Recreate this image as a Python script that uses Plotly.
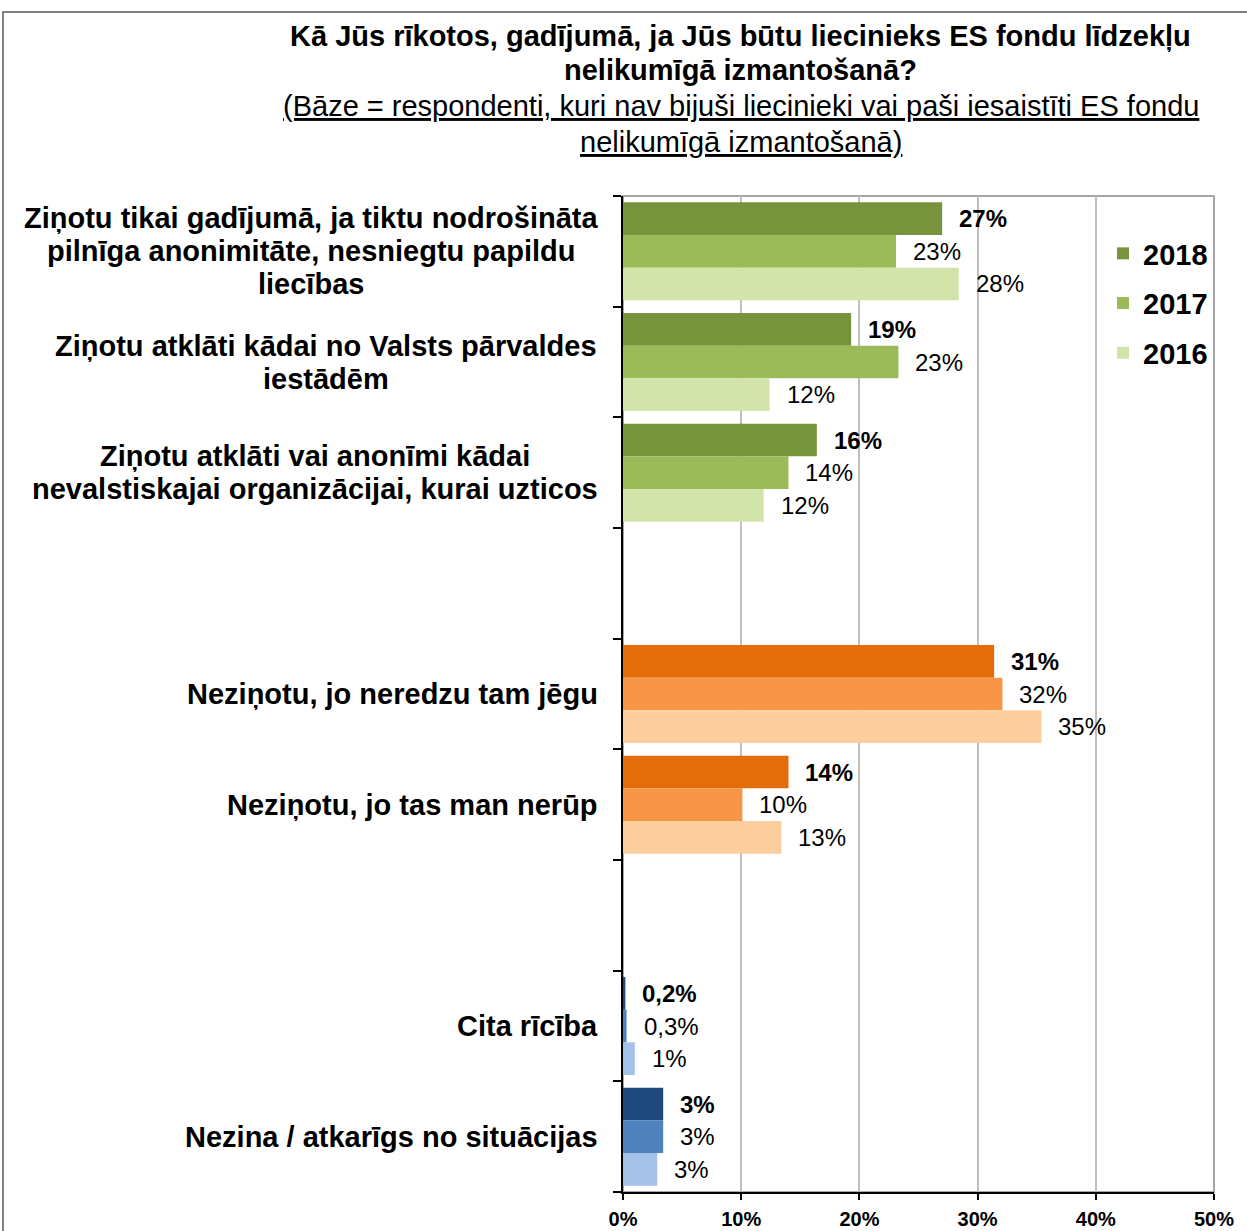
import unicodedata
import plotly.graph_objects as go

# Survey answers (top to bottom) and the answer block each belongs to
categories = [
    ["Ziņotu tikai gadījumā, ja tiktu nodrošināta", "pilnīga anonimitāte, nesniegtu papildu", "liecības"],
    ["Ziņotu atklāti kādai no Valsts pārvaldes", "iestādēm"],
    ["Ziņotu atklāti vai anonīmi kādai", "nevalstiskajai organizācijai, kurai uzticos"],
    ["Neziņotu, jo neredzu tam jēgu"],
    ["Neziņotu, jo tas man nerūp"],
    ["Cita rīcība"],
    ["Nezina / atkarīgs no situācijas"],
]
groups = ["report", "report", "report", "silent", "silent", "other", "other"]

years = ["2018", "2017", "2016"]
values_2018 = [27.0, 19.3, 16.4, 31.4, 14.0, 0.2, 3.4]
values_2017 = [23.1, 23.3, 14.0, 32.1, 10.1, 0.3, 3.4]
values_2016 = [28.4, 12.4, 11.9, 35.4, 13.4, 1.0, 2.9]
series = [values_2018, values_2017, values_2016]

x_ticks = [0, 10, 20, 30, 40, 50]

title_lines = [
    "Kā Jūs rīkotos, gadījumā, ja Jūs būtu liecinieks ES fondu līdzekļu",
    "nelikumīgā izmantošanā?",
]
subtitle_lines = [
    "(Bāze = respondenti, kuri nav bijuši liecinieki vai paši iesaistīti ES fondu",
    "nelikumīgā izmantošanā)",
]

# Shades per answer block: 2018, 2017, 2016
palette = {
    "report": ["#77933C", "#9BBB59", "#D3E4AB"],
    "silent": ["#E46C0A", "#F79646", "#FDCF9F"],
    "other": ["#1F497D", "#4F81BD", "#A4C2E8"],
}

FONT = "Liberation Sans, Arial, sans-serif"

# Bold sans advance widths (1/1000 em) used to centre multi-line answer texts
_W = {" ": 278, ",": 278, "/": 278, "-": 333, ".": 278}
_W.update({c: w for c, w in zip("ABCDEFGHIJKLMNOPQRSTUVWXYZ",
                                [722, 722, 722, 722, 667, 611, 778, 722, 278, 556, 722, 611, 833,
                                 722, 778, 667, 778, 722, 667, 611, 722, 667, 944, 667, 667, 611])})
_W.update({c: w for c, w in zip("abcdefghijklmnopqrstuvwxyz",
                                [556, 611, 556, 611, 556, 333, 611, 611, 278, 278, 556, 278, 889,
                                 611, 611, 611, 611, 389, 556, 333, 611, 556, 778, 556, 556, 500])})


def text_width(s, size):
    base = unicodedata.normalize("NFD", s)
    return sum(_W.get(ch, 0) for ch in base if not unicodedata.combining(ch)) * size / 1000


# Slot index for every answer, leaving an empty slot between blocks
slots = []
pos = -1
for i, g in enumerate(groups):
    pos += 1
    if i > 0 and g != groups[i - 1]:
        pos += 1
    slots.append(pos)
n_slots = pos + 1

bargap = 0.115
bar_w = (1 - bargap) / len(years)


def fmt(v):
    if v < 1:
        return f"{v:.1f}".replace(".", ",") + "%"
    return f"{round(v)}%"


fig = go.Figure()
for k, (year, vals) in enumerate(zip(years, series)):
    fig.add_trace(go.Bar(
        name=year,
        orientation="h",
        x=vals,
        y=slots,
        marker=dict(color=[palette[g][k] for g in groups], line=dict(width=0)),
        legendgroup=year,
        hoverinfo="skip",
    ))

annotations = []
# Value labels next to each bar
for k, vals in enumerate(series):
    for s, v in zip(slots, vals):
        annotations.append(dict(
            x=v, y=s + (k - 1) * bar_w, xref="x", yref="y",
            text=fmt(v), showarrow=False, xanchor="left", yanchor="middle",
            xshift=15,
            font=dict(family=FONT, size=24, color="#000000",
                      weight="bold" if k == 0 else "normal"),
        ))

# Answer texts: block right-aligned beside the axis, lines centred within the block
LABEL_SIZE = 29
LINE_H = 33
LABEL_GAP = 25
for s, lines in zip(slots, categories):
    n = len(lines)
    block_w = max(text_width(line, LABEL_SIZE) for line in lines)
    for i, line in enumerate(lines):
        annotations.append(dict(
            x=0, y=s, xref="paper", yref="y",
            text=line, showarrow=False, xanchor="center", yanchor="middle",
            xshift=-(LABEL_GAP + block_w / 2), yshift=((n - 1) / 2 - i) * LINE_H,
            font=dict(family=FONT, size=LABEL_SIZE, color="#000000", weight="bold"),
        ))

# Heading
PLOT_TOP = 196
PLOT_H = 996
for i, line in enumerate(title_lines):
    py = 36 + i * 34
    annotations.append(dict(
        x=(740 - 623) / 591, y=1 + (PLOT_TOP - py) / PLOT_H, xref="paper", yref="paper",
        text=f"<b>{line}</b>", showarrow=False, xanchor="center", yanchor="middle",
        font=dict(family=FONT, size=29, color="#000000"),
    ))
for i, line in enumerate(subtitle_lines):
    py = 106 + i * 36
    annotations.append(dict(
        x=(741 - 623) / 591, y=1 + (PLOT_TOP - py) / PLOT_H, xref="paper", yref="paper",
        text=f"<u>{line}</u>", showarrow=False, xanchor="center", yanchor="middle",
        font=dict(family=FONT, size=29, color="#000000"),
    ))

shapes = [
    # plot-area frame
    dict(type="rect", xref="paper", yref="paper", x0=0, x1=1, y0=0, y1=1,
         line=dict(color="#A6A6A6", width=2), layer="below"),
    # outer frame
    dict(type="rect", xref="paper", yref="paper",
         x0=(3 - 623) / 591, x1=1.2, y0=-0.2, y1=1 + (PLOT_TOP - 12) / PLOT_H,
         line=dict(color="#808080", width=2), layer="below"),
]

fig.update_layout(
    width=1247, height=1231,
    margin=dict(l=623, r=33, t=PLOT_TOP, b=1231 - PLOT_TOP - PLOT_H, autoexpand=False),
    paper_bgcolor="white", plot_bgcolor="white",
    barmode="group", bargap=bargap, bargroupgap=0,
    font=dict(family=FONT, color="#000000"),
    showlegend=True,
    legend=dict(
        x=(1103 - 623) / 591, y=1 - (228 - PLOT_TOP) / PLOT_H,
        xanchor="left", yanchor="top",
        font=dict(family=FONT, size=29, color="#000000", weight="bold"),
        bgcolor="rgba(0,0,0,0)", tracegroupgap=9, traceorder="grouped",
    ),
    annotations=annotations,
    shapes=shapes,
    xaxis=dict(
        range=[0, 50], tickvals=x_ticks, ticktext=[f"{t}%" for t in x_ticks],
        showgrid=True, gridcolor="#BFBFBF", gridwidth=2,
        showline=True, linecolor="#000000", linewidth=2,
        ticks="outside", ticklen=6, tickcolor="#000000", tickwidth=2,
        ticklabelstandoff=2,
        tickfont=dict(family=FONT, size=20, color="#000000", weight="bold"),
        zeroline=False, fixedrange=True, automargin=False,
    ),
    yaxis=dict(
        range=[n_slots - 0.5, -0.5],
        tickvals=[i - 0.5 for i in range(n_slots + 1)],
        ticktext=["" for _ in range(n_slots + 1)],
        showgrid=False, zeroline=False,
        showline=True, linecolor="#000000", linewidth=2,
        ticks="outside", ticklen=8, tickcolor="#000000", tickwidth=2,
        fixedrange=True, automargin=False,
    ),
)

fig.write_html("out.html")
